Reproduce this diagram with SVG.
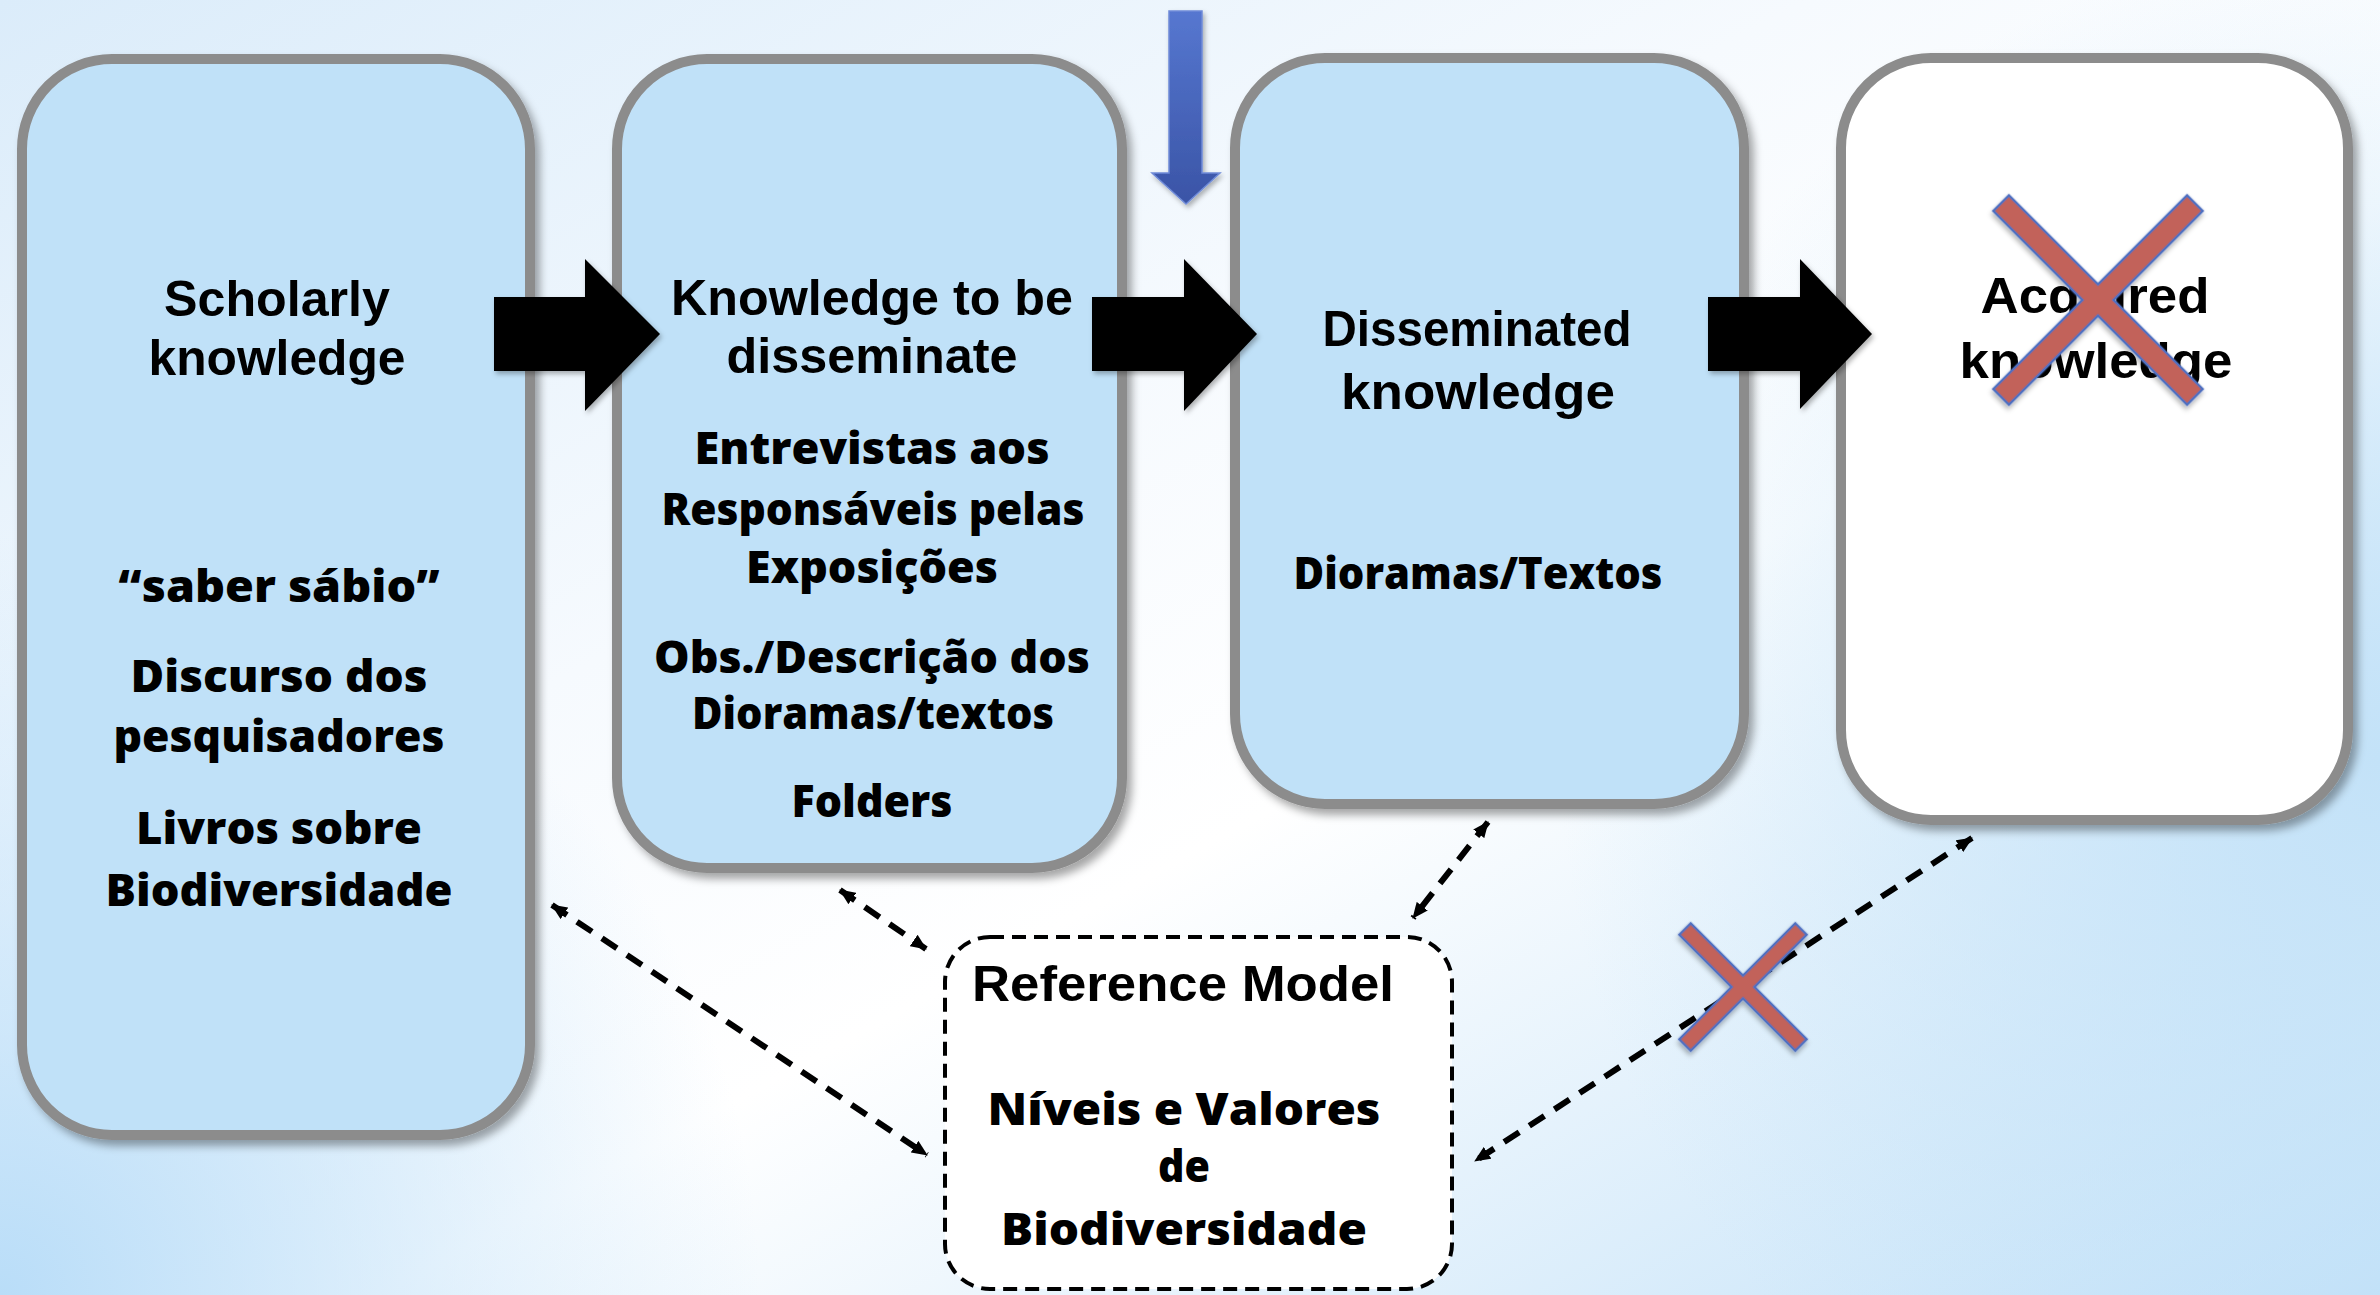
<svg xmlns="http://www.w3.org/2000/svg" width="2380" height="1295" viewBox="0 0 2380 1295">
  <defs>
    <linearGradient id="bgBase" x1="0" y1="0" x2="1" y2="1">
      <stop offset="0" stop-color="#dbecfa"/>
      <stop offset="0.38" stop-color="#f6fafe"/>
      <stop offset="0.58" stop-color="#ffffff"/>
      <stop offset="1" stop-color="#c2e1f8"/>
    </linearGradient>
    <radialGradient id="hazeLeft" cx="0" cy="1295" r="760" gradientUnits="userSpaceOnUse">
      <stop offset="0" stop-color="#b9ddf8" stop-opacity="1"/>
      <stop offset="1" stop-color="#b9ddf8" stop-opacity="0"/>
    </radialGradient>
    <radialGradient id="hazeRight" cx="2380" cy="760" r="820" gradientUnits="userSpaceOnUse">
      <stop offset="0" stop-color="#c3e2f8" stop-opacity="1"/>
      <stop offset="1" stop-color="#c3e2f8" stop-opacity="0"/>
    </radialGradient>
    <linearGradient id="blueArrow" x1="0" y1="0" x2="0" y2="1">
      <stop offset="0" stop-color="#5677d0"/>
      <stop offset="1" stop-color="#3a54a6"/>
    </linearGradient>
    <filter id="shadow" x="-10%" y="-10%" width="125%" height="125%">
      <feDropShadow dx="5" dy="6" stdDeviation="4" flood-color="#000" flood-opacity="0.35"/>
    </filter>
    <filter id="softShadow" x="-10%" y="-10%" width="125%" height="125%">
      <feDropShadow dx="2" dy="3" stdDeviation="2.5" flood-color="#000" flood-opacity="0.3"/>
    </filter>
    <marker id="tip" viewBox="0 0 16 14" refX="15" refY="7" markerWidth="16" markerHeight="14" markerUnits="userSpaceOnUse" orient="auto-start-reverse">
      <path d="M0,0 L16,7 L0,14 Z" fill="#000"/>
    </marker>
    <style>
      .stage { fill: #c0e1f8; stroke: #8c8c8c; stroke-width: 10; filter: url(#shadow); }
      .stage.blank { fill: #ffffff; }
      .refbox { fill: #ffffff; stroke: #000; stroke-width: 4; stroke-dasharray: 14 8; }
      .block { fill: #000; filter: url(#softShadow); }
      .link { fill: none; stroke: #000; stroke-width: 6; stroke-dasharray: 18 12; marker-start: url(#tip); marker-end: url(#tip); }
      .cross { fill: #c2625a; stroke: #4f6fc0; stroke-width: 2.5; filter: url(#softShadow); }
      .title { font-family: "Liberation Sans", Arial, sans-serif; font-weight: bold; font-size: 50px; text-anchor: middle; fill: #000; }
      .item { font-family: "Open Sans", "DejaVu Sans", sans-serif; font-weight: 800; font-size: 44px; text-anchor: middle; fill: #000; }
    </style>
  </defs>

  <!-- background -->
  <rect width="2380" height="1295" fill="url(#bgBase)"/>
  <rect width="2380" height="1295" fill="url(#hazeLeft)"/>
  <rect width="2380" height="1295" fill="url(#hazeRight)"/>

  <!-- stage: scholarly knowledge -->
  <g id="scholarly">
    <rect class="stage" x="22" y="59" width="508" height="1076" rx="90"/>
    <text class="title" x="277" y="316" textLength="226" lengthAdjust="spacingAndGlyphs">Scholarly</text>
    <text class="title" x="277" y="375" textLength="257" lengthAdjust="spacingAndGlyphs">knowledge</text>
    <text class="item" x="279" y="602" textLength="321" lengthAdjust="spacingAndGlyphs">“saber sábio”</text>
    <text class="item" x="279" y="692" textLength="297" lengthAdjust="spacingAndGlyphs">Discurso dos</text>
    <text class="item" x="279" y="752" textLength="331" lengthAdjust="spacingAndGlyphs">pesquisadores</text>
    <text class="item" x="279" y="844" textLength="286" lengthAdjust="spacingAndGlyphs">Livros sobre</text>
    <text class="item" x="279" y="906" textLength="347" lengthAdjust="spacingAndGlyphs">Biodiversidade</text>
  </g>

  <!-- stage: knowledge to be disseminated -->
  <g id="to-disseminate">
    <rect class="stage" x="617" y="59" width="505" height="809" rx="90"/>
    <text class="title" x="872" y="315" textLength="402" lengthAdjust="spacingAndGlyphs">Knowledge to be</text>
    <text class="title" x="872" y="373" textLength="291" lengthAdjust="spacingAndGlyphs">disseminate</text>
    <text class="item" x="872" y="464" textLength="355" lengthAdjust="spacingAndGlyphs">Entrevistas aos</text>
    <text class="item" x="873" y="525" textLength="423" lengthAdjust="spacingAndGlyphs">Responsáveis pelas</text>
    <text class="item" x="872" y="583" textLength="252" lengthAdjust="spacingAndGlyphs">Exposições</text>
    <text class="item" x="872" y="673" textLength="436" lengthAdjust="spacingAndGlyphs">Obs./Descrição dos</text>
    <text class="item" x="873" y="729" textLength="362" lengthAdjust="spacingAndGlyphs">Dioramas/textos</text>
    <text class="item" x="872" y="817" textLength="161" lengthAdjust="spacingAndGlyphs">Folders</text>
  </g>

  <!-- stage: disseminated knowledge -->
  <g id="disseminated">
    <rect class="stage" x="1235" y="58" width="509" height="746" rx="90"/>
    <text class="title" x="1477" y="346" font-size="48" textLength="309" lengthAdjust="spacingAndGlyphs">Disseminated</text>
    <text class="title" x="1478" y="409" textLength="274" lengthAdjust="spacingAndGlyphs">knowledge</text>
    <text class="item" x="1478" y="589" textLength="369" lengthAdjust="spacingAndGlyphs">Dioramas/Textos</text>
  </g>

  <!-- stage: acquired knowledge (struck out) -->
  <g id="acquired">
    <rect class="stage blank" x="1841" y="58" width="507" height="762" rx="90"/>
    <text class="title" x="2095" y="313" font-size="51" textLength="229" lengthAdjust="spacingAndGlyphs">Acquired</text>
    <text class="title" x="2096" y="378" font-size="51" textLength="273" lengthAdjust="spacingAndGlyphs">knowledge</text>
    <polygon class="cross" transform="translate(2098,300) rotate(45)" points="137,11 137,-11 11,-11 11,-137 -11,-137 -11,-11 -137,-11 -137,11 -11,11 -11,137 11,137 11,11"/>
  </g>

  <!-- reference model -->
  <g id="reference-model">
    <rect class="refbox" x="945" y="937" width="507" height="352" rx="45"/>
    <text class="title" x="1183" y="1001" textLength="422" lengthAdjust="spacingAndGlyphs">Reference Model</text>
    <text class="item" x="1184" y="1125" font-size="48" textLength="393" lengthAdjust="spacingAndGlyphs">Níveis e Valores</text>
    <text class="item" x="1184" y="1182" font-size="48" textLength="52" lengthAdjust="spacingAndGlyphs">de</text>
    <text class="item" x="1184" y="1245" font-size="48" textLength="366" lengthAdjust="spacingAndGlyphs">Biodiversidade</text>
  </g>

  <!-- connectors -->
  <g id="connectors">
    <polygon class="block" points="494,297 585,297 585,259 660,334 585,411 585,371 494,371"/>
    <polygon class="block" points="1092,297 1184,297 1184,259 1257,334 1184,411 1184,371 1092,371"/>
    <polygon class="block" points="1708,297 1800,297 1800,259 1872,334 1800,409 1800,371 1708,371"/>
    <polygon fill="url(#blueArrow)" stroke="#6f8bd8" stroke-width="1.5" filter="url(#softShadow)" points="1169,11 1202,11 1202,173 1220,173 1186,204 1152,173 1169,173"/>
    <path class="link" d="M552,905 L927,1155"/>
    <path class="link" d="M840,890 L926,949"/>
    <path class="link" d="M1488,822 L1413,918"/>
    <path class="link" d="M1972,838 L1475,1161"/>
    <polygon class="cross" transform="translate(1743,987) rotate(45)" points="82,8 82,-8 8,-8 8,-82 -8,-82 -8,-8 -82,-8 -82,8 -8,8 -8,82 8,82 8,8"/>
  </g>
</svg>
